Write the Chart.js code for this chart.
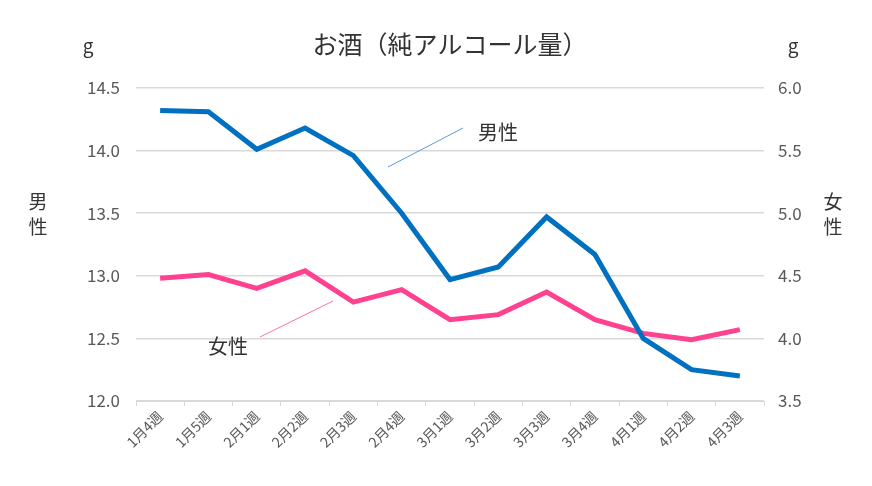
<!DOCTYPE html>
<html>
<head>
<meta charset="utf-8">
<script src="https://cdn.jsdelivr.net/npm/chart.js@4"></script>
<style>
  html, body { margin: 0; padding: 0; background: #fff; }
  #wrap { width: 872px; height: 486px; }
</style>
</head>
<body>
<div id="wrap"><canvas id="alcohol-chart" width="872" height="486"></canvas></div>
<script>
    "use strict";

    var weeks = ["1月4週", "1月5週", "2月1週", "2月2週", "2月3週", "2月4週", "3月1週",
                 "3月2週", "3月3週", "3月4週", "4月1週", "4月2週", "4月3週"];
    var male = [14.32, 14.31, 14.01, 14.18, 13.96, 13.5, 12.97, 13.07, 13.47, 13.17, 12.5, 12.25, 12.2];
    var female = [4.48, 4.51, 4.40, 4.54, 4.29, 4.39, 4.15, 4.19, 4.37, 4.15, 4.04, 3.99, 4.07];
    var maleTicks = [12.0, 12.5, 13.0, 13.5, 14.0, 14.5];
    var femaleTicks = [3.5, 4.0, 4.5, 5.0, 5.5, 6.0];

    var FONT = "'Noto Sans CJK JP', 'Noto Sans', sans-serif";

    // titles, unit labels and series callouts
    var textPlugin = {
        id: "texts",
        afterDraw: function (chart) {
            var ctx = chart.ctx;
            var area = chart.chartArea;
            ctx.save();
            ctx.fillStyle = "#333333";
            ctx.textAlign = "center";
            ctx.textBaseline = "middle";

            ctx.font = "25px " + FONT;
            ctx.fillText("お酒（純アルコール量）", (area.left + area.right) / 2, 44);

            ctx.font = "19px " + FONT;
            ctx.fillText("g", 88, 46);
            ctx.fillText("g", 793, 46);
            ctx.fillText("男", 38, 202);
            ctx.fillText("性", 38, 227);
            ctx.fillText("女", 833, 202);
            ctx.fillText("性", 833, 227);

            ctx.font = "20px " + FONT;
            ctx.fillText("男性", 498, 132);
            ctx.fillText("女性", 228, 346);

            ctx.lineWidth = 1;
            ctx.strokeStyle = "#5B9BD5";
            ctx.beginPath();
            ctx.moveTo(463, 128);
            ctx.lineTo(388, 167);
            ctx.stroke();

            ctx.strokeStyle = "#FF6FA8";
            ctx.beginPath();
            ctx.moveTo(260, 337);
            ctx.lineTo(333, 301);
            ctx.stroke();
            ctx.restore();
        }
    };

    var ctx1 = document.getElementById("alcohol-chart").getContext("2d");
    var myChart1 = new Chart(ctx1, {
        type: "line",
        data: {
            labels: weeks,
            datasets: [{
                    label: "男性",
                    data: male,
                    yAxisID: "y",
                    borderColor: "#0070C0",
                    borderWidth: 5,
                    pointRadius: 0,
                    fill: false
                },
                {
                    label: "女性",
                    data: female,
                    yAxisID: "y1",
                    borderColor: "#FF4190",
                    borderWidth: 5,
                    pointRadius: 0,
                    fill: false
                }
            ]
        },
        options: {
            responsive: false,
            animation: false,
            layout: {
                padding: { top: 88, bottom: 0, left: 0, right: 0 }
            },
            plugins: {
                legend: { display: false },
                tooltip: { enabled: false }
            },
            scales: {
                x: {
                    offset: true,
                    grid: {
                        offset: true,
                        drawOnChartArea: false,
                        drawTicks: true,
                        tickLength: 5,
                        color: "#d9d9d9"
                    },
                    border: { color: "#d9d9d9" },
                    ticks: {
                        maxRotation: 45,
                        minRotation: 45,
                        padding: 2,
                        color: "#595959",
                        font: { family: FONT, size: 14 }
                    },
                    afterFit: function (scale) { scale.height = 85; }
                },
                y: {
                    position: "left",
                    min: 12,
                    max: 14.5,
                    afterBuildTicks: function (scale) {
                        scale.ticks = maleTicks.map(function (v) { return { value: v }; });
                    },
                    grid: { color: "#d9d9d9", lineWidth: 1.5, drawTicks: false },
                    border: { display: false },
                    ticks: {
                        padding: 16,
                        color: "#595959",
                        font: { family: FONT, size: 17 },
                        callback: function (v) { return Number(v).toFixed(1); }
                    },
                    afterFit: function (scale) { scale.width = 136; }
                },
                y1: {
                    position: "right",
                    min: 3.5,
                    max: 6.0,
                    afterBuildTicks: function (scale) {
                        scale.ticks = femaleTicks.map(function (v) { return { value: v }; });
                    },
                    grid: { drawOnChartArea: false, drawTicks: false },
                    border: { display: false },
                    ticks: {
                        padding: 14,
                        color: "#595959",
                        font: { family: FONT, size: 17 },
                        callback: function (v) { return Number(v).toFixed(1); }
                    },
                    afterFit: function (scale) { scale.width = 108; }
                }
            }
        },
        plugins: [textPlugin]
    });
</script>
</body>
</html>
